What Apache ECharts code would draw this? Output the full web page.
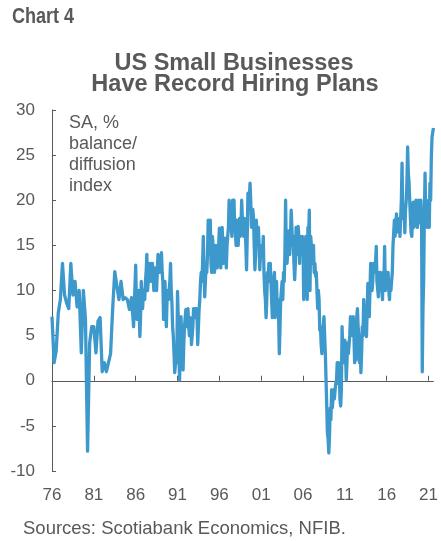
<!DOCTYPE html>
<html>
<head>
<meta charset="utf-8">
<script src="https://cdn.jsdelivr.net/npm/echarts@6/dist/echarts.min.js"></script>
<style>
  html, body { margin: 0; padding: 0; background: #ffffff; }
  #chart { width: 441px; height: 541px; }
</style>
</head>
<body>
<div id="chart"></div>
<script>
// NFIB small business hiring plans, SA, % balance / diffusion index.
// The survey was quarterly until 1985 and monthly from 1986.
const startYear = 1976;
const endYear = 2021;
const endMonth = 8; // last observation: Aug 2021

// Quarterly readings 1976Q1 .. 1985Q4
const quarterly1976to1985 = [
  7.1, 2, 3.3, 7.5,      // 1976
  9, 13, 9.5, 8.6,       // 1977
  8, 13, 9.5, 11,        // 1978
  8.2, 10, 3.1, 10,      // 1979
  6.8, -7.8, 4.2, 6,     // 1980
  6, 3.1, 6.6, 7,        // 1981
  1, 2, 1, 2,            // 1982
  3, 8, 12.1, 10.5,      // 1983
  9, 11, 9, 9.2,         // 1984
  9, 7.9, 9.2, 6         // 1985
];

// Monthly readings Jan 1986 .. Aug 2021
const monthly1986on = [
  12.8, 9, 6.8, 8, 10, 8, 4.9, 7, 11, 9, 8, 10,          // 1986
  10, 9, 11, 12, 14, 10, 11, 13, 11, 12, 13, 11,         // 1987
  13, 12, 10, 11, 12.5, 11, 10, 12, 14, 13, 12, 12,      // 1988
  13, 14.2, 12, 11, 6.8, 9, 11, 8, 6, 9, 10, 9,          // 1989
  10, 11, 13, 10, 8.6, 6, 4.9, 3, 0.9, 1, 2.7, 2,        // 1990
  9.9, 7, 3, 0.1, 4, 7.1, 5, 3, 1.2, 4, 6, 7,            // 1991
  7.9, 6, 7, 8, 6, 5, 7, 6.5, 4, 3.8, 6, 8,              // 1992
  7, 8, 7, 8, 7, 4, 3.8, 8, 9, 11, 12, 11,               // 1993
  13, 16, 12, 9.3, 11, 13, 12, 14, 17.8, 15, 14, 17.8,   // 1994
  13, 12, 16, 15, 13, 12, 12, 15, 13, 12.5, 14, 15,      // 1995
  16.9, 14, 12.5, 14, 17, 15, 13, 14, 15.8, 14, 12.5, 15,// 1996
  16, 17, 20, 17, 18, 17.8, 16, 20, 18, 20, 17, 16.4,    // 1997
  15, 17.8, 16, 15, 17, 18, 16, 17, 20, 18, 17, 16,      // 1998
  18, 17, 15, 12.3, 16, 20.8, 19, 20, 21.9, 20, 17, 18,  // 1999
  19, 18, 15, 12.3, 14, 17.8, 16, 15, 17, 15, 12.3, 14,  // 2000
  14.5, 15, 14, 16, 12, 10, 9, 7, 9, 12, 11, 13,         // 2001
  12, 13, 11, 9, 7, 8, 11, 12, 7, 9, 11, 8,              // 2002
  9, 7, 3, 6, 9, 10, 11, 9, 12, 11, 14, 20,              // 2003
  14, 13, 14, 16.6, 15, 14, 16, 18.9, 17, 15, 16, 13,    // 2004
  11.2, 13, 17, 15, 14, 17.1, 16, 13, 16, 15, 14, 16,    // 2005
  15, 9, 12, 14, 16, 13, 9, 17, 16, 18.9, 10, 16,        // 2006
  15, 14, 13, 15, 12, 13, 11.6, 12, 10, 8, 10, 9,        // 2007
  5.6, 6, 4, 3, 5, 6, 7.1, 5, 3, 0.1, -2.8, -5.8,        // 2008
  -6.5, -8, -6, -3, -4.3, -1, -3, -2.8, -1, -2, -1, -0.3,// 2009
  0, 2, -0.3, 2, 1, -2.1, -2.8, -1, 6, 3, 4, 2,          // 2010
  4.5, 3, 0.1, 2, 4.2, 3, 3.1, 5, 7.1, 5, 5.3, 6,        // 2011
  7.1, 5, 2, 4, 2.3, 7, 8, 6, 5, 2, 4, 0.9,              // 2012
  3, 6, 5, 9, 7, 5.6, 6, 4.9, 8, 10.8, 8, 7.1,           // 2013
  10, 13, 11, 10, 11, 13, 12, 12, 13, 14.9, 11, 11,      // 2014
  9.3, 12, 11, 12, 11, 10, 9, 12, 11, 14.9, 10, 11,      // 2015
  12, 11, 12, 10, 9, 11, 10, 11, 12, 14.9, 15, 17.8,     // 2016
  16, 17, 18.5, 17, 16.5, 17, 18, 16, 18, 20, 24.1, 18,  // 2017
  18, 19, 16.4, 19, 20, 22, 25.9, 23, 22, 20, 18, 16.4,  // 2018
  16, 18, 19.8, 17, 16.8, 19, 20, 18, 17, 19, 20, 18,    // 2019
  17.5, 20, 18, 1, 8, 11.2, 18.2, 23, 18, 20, 17, 17.1,  // 2020
  18, 17, 21.9, 20, 24.8, 27, 27, 28                     // 2021
];

// Y-axis scale
const yMin = -10, yMax = 30, yStep = 5;
// Years between labelled x ticks
const yearStep = 5;

// Monthly category axis
const months = [];
for (let y = startYear; y <= endYear; y++) {
  const last = (y === endYear) ? endMonth : 12;
  for (let m = 1; m <= last; m++) {
    months.push(y + '-' + (m < 10 ? '0' + m : m));
  }
}

// Quarterly points sit on the first month of each quarter; gaps are bridged.
const values = months.map(() => null);
quarterly1976to1985.forEach((v, i) => { values[i * 3] = v; });
const monthlyOffset = (1986 - startYear) * 12;
monthly1986on.forEach((v, i) => { values[monthlyOffset + i] = v; });

const tickEvery = (idx) => idx % (12 * yearStep) === 0;
const yearLabel = (val) => val.slice(2, 4);

const grey = '#595959';
const font = '"Liberation Sans", Arial, sans-serif';

const chart = echarts.init(document.getElementById('chart'), null, { renderer: 'canvas' });

chart.setOption({
  animation: false,
  backgroundColor: '#ffffff',
  grid: { left: 52, right: 4, top: 110, bottom: 70, containLabel: false },
  xAxis: [
    {
      // zero line with inward ticks
      type: 'category',
      data: months,
      boundaryGap: false,
      axisLine: { show: true, onZero: true, lineStyle: { color: grey, width: 1 } },
      axisTick: { show: true, inside: true, length: 5, interval: tickEvery, lineStyle: { color: grey } },
      axisLabel: { show: false },
      splitLine: { show: false }
    },
    {
      // year labels along the bottom
      type: 'category',
      data: months,
      position: 'bottom',
      boundaryGap: false,
      axisLine: { show: false, onZero: false },
      axisTick: { show: false },
      axisLabel: {
        show: true, interval: tickEvery, formatter: yearLabel,
        color: grey, fontSize: 17, fontFamily: font, margin: 16
      },
      splitLine: { show: false }
    }
  ],
  yAxis: {
    type: 'value',
    min: yMin, max: yMax, interval: yStep,
    axisLine: { show: true, lineStyle: { color: grey, width: 1 } },
    axisTick: { show: true, inside: true, length: 4, lineStyle: { color: grey } },
    axisLabel: { color: grey, fontSize: 17, fontFamily: font, margin: 17 },
    splitLine: { show: false }
  },
  series: [{
    type: 'line',
    xAxisIndex: 0,
    data: values,
    connectNulls: true,
    showSymbol: false,
    symbol: 'none',
    lineStyle: { color: '#3d98cc', width: 3.3, join: 'round' },
    z: 3
  }],
  graphic: [
    { type: 'text', x: 12, y: 16.5, scaleX: 0.82,
      style: { text: 'Chart 4', fill: grey, textVerticalAlign: 'middle',
               font: 'bold 22px ' + font } },
    { type: 'text', x: 234, y: 63.5,
      style: { text: 'US Small Businesses', fill: grey, textAlign: 'center', textVerticalAlign: 'middle',
               font: 'bold 23.5px ' + font } },
    { type: 'text', x: 235, y: 84.5,
      style: { text: 'Have Record Hiring Plans', fill: grey, textAlign: 'center', textVerticalAlign: 'middle',
               font: 'bold 23.5px ' + font } },
    { type: 'text', x: 69, y: 123.5,
      style: { text: 'SA, %', fill: grey, textVerticalAlign: 'middle', font: '18px ' + font } },
    { type: 'text', x: 69, y: 144.5,
      style: { text: 'balance/', fill: grey, textVerticalAlign: 'middle', font: '18px ' + font } },
    { type: 'text', x: 69, y: 165.5,
      style: { text: 'diffusion', fill: grey, textVerticalAlign: 'middle', font: '18px ' + font } },
    { type: 'text', x: 69, y: 186.5,
      style: { text: 'index', fill: grey, textVerticalAlign: 'middle', font: '18px ' + font } },
    { type: 'text', x: 23, y: 529,
      style: { text: 'Sources: Scotiabank Economics, NFIB.', fill: grey, textVerticalAlign: 'middle',
               font: '18.5px ' + font } }
  ]
});
</script>
</body>
</html>
